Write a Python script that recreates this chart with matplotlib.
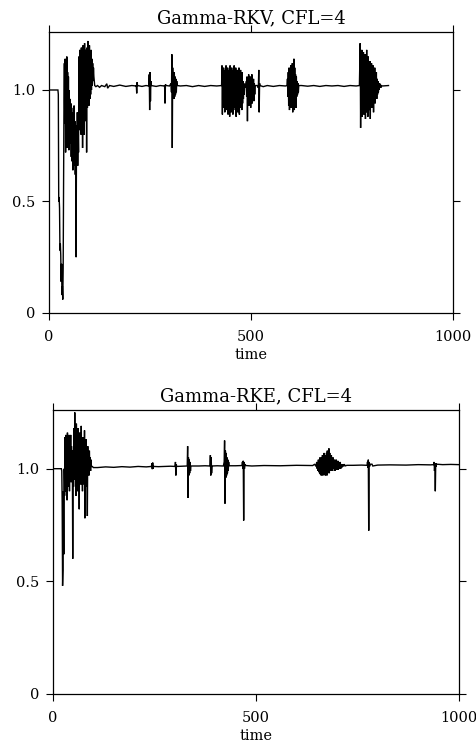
import matplotlib
matplotlib.use("Agg")
import matplotlib.pyplot as plt

plt.rcParams['font.family'] = ['DejaVu Serif']

titles = ["Gamma-RKV, CFL=4", "Gamma-RKE, CFL=4"]
x_ticks = [0, 500, 1000]
x_tick_labels = ["0", "500", "1000"]
y_ticks = [0, 0.5, 1.0]
y_tick_labels = ["0", "0.5", "1.0"]
x_label = "time"

# ---- Gamma-RKV (top) ----
t_rkv = [0, 22, 23, 24, 25, 26, 27, 28, 29, 30, 31, 32, 33, 34, 35, 36, 37, 38, 39, 40,
         41, 42, 43, 44, 45, 46, 47, 48, 49, 50, 51, 52, 53, 54, 55, 56, 57, 58, 59, 60,
         61, 62, 63, 64, 65, 66, 67, 68, 69, 70, 71, 72, 73, 74, 75, 76, 77, 78, 79, 80,
         81, 82, 83, 84, 85, 86, 87, 88, 89, 90, 91, 92, 93, 94, 95, 96, 97, 98, 99, 100,
         101, 102, 103, 104, 105, 106, 107, 108, 109, 110, 111, 112, 113, 116,
         120, 125, 130, 138, 143, 145, 150, 160, 175, 190, 205, 215, 216, 217, 218, 219,
         230, 240, 247, 248, 249, 250, 251, 252, 253, 265, 275, 285, 286, 287, 288, 290,
         298, 302, 303, 304, 305, 306, 307, 308, 309, 310, 311, 312, 313, 314, 315, 316, 317,
         325, 340, 355, 370, 385, 400, 415, 426, 427,
         428, 429, 430, 431, 432, 433, 434, 435, 436, 437, 438, 439, 440, 441, 442, 443,
         444, 445, 446, 447, 448, 449, 450, 451, 452, 453, 454, 455, 456, 457, 458, 459,
         460, 461, 462, 463, 464, 465, 466, 467, 468, 469, 470, 471, 472, 473, 474, 475,
         476, 477, 478, 479, 480, 481, 482, 483, 484, 485,
         488, 489, 490, 491, 492, 493, 494, 495, 496, 497, 498, 499, 500, 501, 502, 503,
         504, 505, 506, 507, 508, 509, 510, 515, 518, 519, 520, 521, 522,
         530, 540, 555, 570, 585, 589, 590, 591, 592, 593, 594, 595, 596, 597, 598, 599,
         600, 601, 602, 603, 604, 605, 606, 607, 608, 609, 610, 611, 612, 613, 614, 615,
         616, 617, 618, 625, 640, 655, 670, 685, 700, 715, 730, 745, 760, 768,
         770, 771, 772, 773, 774, 775, 776, 777, 778, 779, 780, 781, 782, 783, 784, 785,
         786, 787, 788, 789, 790, 791, 792, 793, 794, 795, 796, 797, 798, 799, 800, 801,
         802, 803, 804, 805, 806, 807, 808, 809, 810, 811, 812, 813, 814, 815, 816, 817,
         818, 819, 820, 821, 822, 825, 840]
v_rkv = [1.00, 1.00, 0.98, 0.50, 0.52, 0.47, 0.28, 0.31, 0.26, 0.14, 0.22, 0.08, 0.12, 0.06, 0.20, 0.55, 0.95, 1.12, 0.85, 1.14,
         0.72, 1.10, 0.78, 1.15, 0.74, 1.08, 0.80, 1.06, 0.73, 1.00, 0.82, 0.96, 0.76, 0.94, 0.70, 0.92, 0.68, 0.90, 0.64, 0.88,
         0.66, 0.93, 0.70, 0.86, 0.62, 0.84, 0.25, 0.80, 0.68, 0.90, 0.66, 0.84, 0.72, 1.15, 0.82, 1.18, 0.86, 1.16, 0.80, 1.19,
         0.85, 1.14, 0.74, 1.20, 0.88, 1.17, 0.80, 1.21, 0.86, 1.18, 0.90, 1.15, 0.72, 1.19, 0.92, 1.22, 0.95, 1.17, 0.93, 1.20,
         0.96, 1.16, 0.98, 1.18, 1.00, 1.14, 1.02, 1.12, 1.04, 1.10, 1.06, 1.04, 1.02, 1.015,
         1.02, 1.012, 1.02, 1.015, 1.028, 1.008, 1.02, 1.016, 1.022, 1.016, 1.02, 1.018, 1.02, 0.985, 1.035, 1.02,
         1.016, 1.02, 1.018, 1.07, 0.91, 1.08, 0.95, 1.04, 1.02, 1.016, 1.02, 1.018, 1.02, 0.94, 1.025, 1.02,
         1.018, 1.03, 0.99, 1.16, 0.74, 1.10, 0.97, 1.07, 0.96, 1.08, 0.97, 1.06, 0.98, 1.05, 0.99, 1.04, 1.02,
         1.018, 1.02, 1.015, 1.02, 1.016, 1.02, 1.018, 1.02, 1.02,
         1.11, 0.89, 1.08, 0.92, 1.10, 0.94, 1.05, 0.90, 1.09, 0.95, 1.11, 0.91, 1.07, 0.93, 1.10, 0.89,
         1.06, 0.92, 1.09, 0.88, 1.11, 0.94, 1.08, 0.90, 1.10, 0.93, 1.07, 0.89, 1.09, 0.92, 1.11, 0.95,
         1.06, 0.91, 1.10, 0.88, 1.08, 0.94, 1.09, 0.90, 1.07, 0.93, 1.10, 0.89, 1.06, 0.92, 1.09, 0.95,
         1.05, 0.91, 1.08, 0.94, 1.04, 0.96, 1.03, 0.98, 1.02, 1.01,
         1.04, 0.97, 1.06, 0.86, 1.05, 0.95, 1.07, 0.93, 1.04, 0.96, 1.06, 0.92, 1.05, 0.97, 1.07, 0.94,
         1.04, 0.96, 1.05, 0.95, 1.03, 0.98, 1.02, 1.02, 1.01, 1.09, 0.90, 1.03, 1.02,
         1.015, 1.02, 1.016, 1.02, 1.018, 1.02, 1.05, 0.97, 1.08, 0.93, 1.10, 0.91, 1.07, 0.95, 1.11, 0.92,
         1.09, 0.94, 1.12, 0.90, 1.08, 0.93, 1.14, 0.91, 1.10, 0.95, 1.07, 0.92, 1.06, 0.97, 1.04, 0.98,
         1.03, 0.99, 1.02, 1.02, 1.017, 1.02, 1.016, 1.02, 1.018, 1.02, 1.016, 1.02, 1.018, 1.02,
         1.21, 0.83, 1.15, 0.90, 1.18, 0.88, 1.12, 0.93, 1.17, 0.89, 1.14, 0.92, 1.16, 0.87, 1.13, 0.90,
         1.18, 0.92, 1.11, 0.88, 1.15, 0.93, 1.10, 0.91, 1.13, 0.87, 1.09, 0.94, 1.12, 0.92, 1.08, 0.95,
         1.11, 0.90, 1.07, 0.96, 1.10, 0.94, 1.06, 0.97, 1.08, 0.96, 1.05, 0.98, 1.04, 0.99, 1.03, 1.00,
         1.03, 1.01, 1.025, 1.01, 1.02, 1.018, 1.02]

# ---- Gamma-RKE (bottom) ----
t_rke = [0, 21, 22, 23, 24, 25, 26, 27, 28, 29, 30, 31, 32, 33, 34, 35, 36, 37, 38, 39,
         40, 41, 42, 43, 44, 45, 46, 47, 48, 49, 50, 51, 52, 53, 54, 55, 56, 57, 58, 59,
         60, 61, 62, 63, 64, 65, 66, 67, 68, 69, 70, 71, 72, 73, 74, 75, 76, 77, 78, 79,
         80, 81, 82, 83, 84, 85, 86, 87, 88, 89, 90, 91, 92, 93, 94, 95, 97, 100,
         110, 130, 150, 170, 190, 210, 230, 243, 244, 245, 246, 247, 248, 260, 275, 290,
         301, 302, 303, 304, 305, 320, 331, 332, 333, 334, 335, 336, 337, 338, 339, 340,
         360, 375, 387, 388, 389, 390, 391, 392, 405, 420, 422, 423, 424, 425, 426, 427,
         428, 429, 430, 431, 432, 433, 434, 450, 466, 467, 468, 469, 470, 471, 472, 473,
         475, 490, 520, 560, 600, 640,
         645, 648, 650, 651, 652, 653, 654, 655, 656, 657, 658, 659, 660, 661, 662, 663,
         664, 665, 666, 667, 668, 669, 670, 671, 672, 673, 674, 675, 676, 677, 678, 679,
         680, 681, 682, 683, 684, 685, 686, 687, 688, 689, 690, 691, 692, 693, 694, 695,
         696, 697, 698, 699, 700, 701, 702, 703, 704, 705, 706, 707, 708, 709, 710, 712,
         714, 716, 718, 720, 724, 740, 760, 774, 775, 776, 777, 778, 779, 780, 782, 786,
         788, 800, 830, 870, 900, 930, 938, 939, 940, 941, 942, 943, 944, 945, 960, 980, 1000]
v_rke = [1.00, 1.00, 0.99, 0.85, 0.48, 0.55, 0.90, 0.62, 1.00, 0.88, 1.14, 0.90, 1.15, 0.95, 1.14, 0.86, 1.16, 0.92, 1.13, 0.96,
         1.15, 0.90, 1.12, 0.98, 1.15, 0.94, 1.10, 1.00, 1.08, 0.60, 1.05, 0.92, 1.18, 0.95, 1.25, 0.98, 1.12, 0.88, 1.20, 0.96,
         1.10, 0.90, 1.18, 1.00, 1.08, 0.82, 1.16, 0.97, 1.10, 0.93, 1.19, 0.99, 1.06, 0.90, 1.14, 0.96, 1.09, 0.93, 1.17, 0.78,
         1.07, 0.92, 1.13, 0.98, 1.08, 0.79, 1.10, 1.00, 1.06, 0.97, 1.08, 1.01, 1.05, 0.99, 1.04, 1.01, 1.01, 1.005,
         1.005, 1.008, 1.006, 1.009, 1.007, 1.01, 1.008, 1.01, 1.025, 0.998, 1.027, 1.0, 1.01, 1.009, 1.01, 1.011,
         1.01, 1.03, 0.97, 1.02, 1.01, 1.011, 1.012, 1.10, 0.87, 1.05, 0.97, 1.04, 0.98, 1.03, 0.99, 1.012,
         1.012, 1.013, 1.012, 1.06, 0.97, 1.05, 0.98, 1.012, 1.013, 1.012, 1.03, 1.125, 0.845, 1.08, 0.96, 1.07,
         0.97, 1.05, 0.98, 1.04, 0.99, 1.03, 1.013, 1.013, 1.014, 1.03, 1.0, 1.035, 0.77, 1.03, 1.0, 1.02,
         1.014, 1.012, 1.014, 1.013, 1.015, 1.014,
         1.02, 1.01, 1.03, 1.0, 1.025, 0.99, 1.04, 0.985, 1.035, 0.98, 1.05, 0.975, 1.04, 0.97, 1.05, 0.98,
         1.06, 0.97, 1.05, 0.98, 1.07, 0.975, 1.06, 0.97, 1.05, 0.98, 1.07, 0.97, 1.08, 0.98, 1.06, 0.99,
         1.09, 0.98, 1.07, 0.99, 1.05, 0.99, 1.06, 1.0, 1.04, 0.99, 1.05, 1.0, 1.03, 1.0, 1.04, 0.99,
         1.035, 1.0, 1.04, 0.995, 1.03, 1.0, 1.035, 0.995, 1.03, 1.0, 1.025, 1.0, 1.03, 1.0, 1.02, 1.005,
         1.02, 1.01, 1.02, 1.012, 1.015, 1.015, 1.016, 1.015, 1.03, 1.005, 1.04, 0.725, 1.03, 1.01, 1.02, 1.02,
         1.012, 1.016, 1.017, 1.016, 1.018, 1.017, 1.018, 1.03, 0.99, 1.02, 0.90, 1.025, 1.01, 1.02, 1.018, 1.019, 1.018]

series = [(t_rkv, v_rkv), (t_rke, v_rke)]
rects = [[0.103, 0.580, 0.849, 0.377], [0.111, 0.0685, 0.853, 0.381]]

fig = plt.figure(figsize=(4.76, 7.45), dpi=100)
for (t, v), title, rect in zip(series, titles, rects):
    ax = fig.add_axes(rect)
    ax.plot(t, v, color='black', lw=1.0, solid_joinstyle='miter')
    ax.set_xlim(0, 1000)
    ax.set_ylim(0, 1.26)
    ax.set_xticks(x_ticks)
    ax.set_xticklabels(x_tick_labels)
    ax.set_yticks(y_ticks)
    ax.set_yticklabels(y_tick_labels)
    ax.tick_params(direction='out', length=5, width=0.8, top=True, right=True,
                   labelsize=10.5, pad=5)
    ax.tick_params(axis='x', pad=7)
    ax.set_xlabel(x_label, fontsize=10.5, labelpad=3)
    ax.set_title(title, fontsize=13, pad=6)
    for s in ax.spines.values():
        s.set_linewidth(0.9)

fig.savefig("out.png", dpi=100)
